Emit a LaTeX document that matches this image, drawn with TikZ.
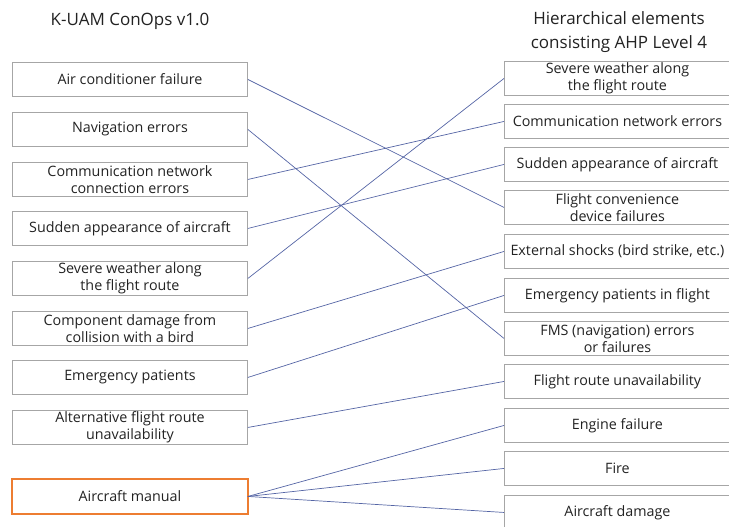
\documentclass[tikz,border=0pt]{standalone}
\usepackage{fontspec}
\setmainfont{Open Sans}
\definecolor{boxgray}{HTML}{A6A6A6}
\definecolor{linkblue}{HTML}{5565A5}
\definecolor{orangeline}{HTML}{ED7D31}
\definecolor{txt}{HTML}{222222}
\begin{document}
\begin{tikzpicture}[x=1pt,y=-1pt,
  boxbase/.style={line width=0.9pt, minimum width=235pt, minimum height=34pt,
    inner sep=0pt, align=center, anchor=north west, text=txt,
    font=\fontsize{14.3}{17}\selectfont},
  lbox/.style={boxbase, draw=boxgray},
  hlbox/.style={boxbase},
  rbox/.style={lbox, minimum width=226pt},
  conn/.style={draw=linkblue, line width=0.7pt},
  hlframe/.style={draw=orangeline, line width=1.3pt},
  ttl/.style={text=txt, align=center, font=\fontsize{17}{24.5}\selectfont, inner sep=0pt}]
\useasboundingbox (0,0) rectangle (729,527);
\clip (0,0) rectangle (729,527);
% titles
\node[ttl] (tl) at (130,21) {K-UAM ConOps v1.0};
\node[ttl] (tr) at (619,32) {Hierarchical elements\\consisting AHP Level 4};
% left boxes
\node[lbox] (l1) at (12,62)  {Air conditioner failure};
\node[lbox] (l2) at (12,112) {Navigation errors};
\node[lbox] (l3) at (12,162) {Communication network\\connection errors};
\node[lbox] (l4) at (12,211) {Sudden appearance of aircraft};
\node[lbox] (l5) at (12,261) {Severe weather along\\the flight route};
\node[lbox] (l6) at (12,311) {Component damage from\\collision with a bird};
\node[lbox] (l7) at (12,360) {Emergency patients};
\node[lbox] (l8) at (12,410) {Alternative flight route\\unavailability};
\node[hlbox] (l9) at (12,479) {Aircraft manual};
\draw[hlframe] (l9.north west) -- (l9.north east) -- (l9.south east) -- (l9.south west) -- cycle;
% right boxes
\node[rbox] (r1)  at (504,61)  {Severe weather along\\the flight route};
\node[rbox] (r2)  at (504,104) {Communication network errors};
\node[rbox] (r3)  at (504,147) {Sudden appearance of aircraft};
\node[rbox] (r4)  at (504,190) {Flight convenience\\device failures};
\node[rbox] (r5)  at (504,234) {External shocks (bird strike, etc.)};
\node[rbox] (r6)  at (504,278) {Emergency patients in flight};
\node[rbox] (r7)  at (504,321) {FMS (navigation) errors\\or failures};
\node[rbox] (r8)  at (504,364) {Flight route unavailability};
\node[rbox] (r9)  at (504,408) {Engine failure};
\node[rbox] (r10) at (504,451) {Fire};
\node[rbox] (r11) at (504,495) {Aircraft damage};
% connectors
\draw[conn] (l1.east) -- (r4.west);
\draw[conn] (l2.east) -- (r7.west);
\draw[conn] (l3.east) -- (r2.west);
\draw[conn] (l4.east) -- (r3.west);
\draw[conn] (l5.east) -- (r1.west);
\draw[conn] (l6.east) -- (r5.west);
\draw[conn] (l7.east) -- (r6.west);
\draw[conn] (l8.east) -- (r8.west);
\draw[conn] (l9.east) -- (r9.west);
\draw[conn] (l9.east) -- (r10.west);
\draw[conn] (l9.east) -- (r11.west);
\end{tikzpicture}
\end{document}
